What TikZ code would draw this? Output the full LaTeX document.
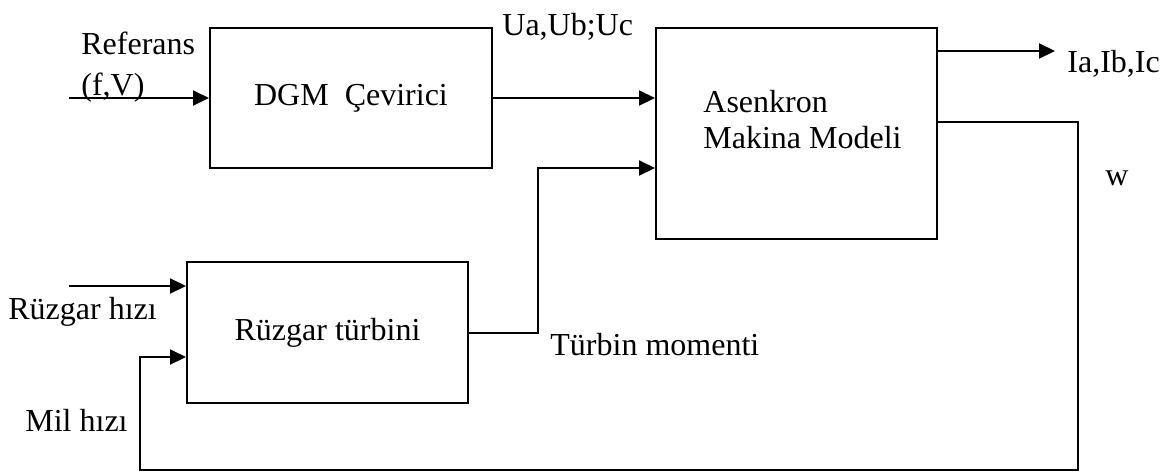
\documentclass[tikz,border=0pt]{standalone}
\usepackage{fontspec}
\setmainfont{Liberation Serif}
\usetikzlibrary{arrows.meta}
\begin{document}
\begin{tikzpicture}[x=0.5pt,y=-0.5pt,
  every node/.style={font=\fontsize{16}{18}\selectfont},
  blk/.style={draw,line width=1pt,inner sep=0pt,align=center},
  lbl/.style={inner sep=0pt,anchor=base west,align=left},
  arr/.style={line width=1pt,-{Triangle[length=8pt,width=7.5pt]}},
  ln/.style={line width=1pt}]
\useasboundingbox (0,0) rectangle (1172,472);
% blocks
\node[blk,minimum width=141pt,minimum height=70pt] (dgm) at (351,98) {DGM\ \ Çevirici};
\node[blk,minimum width=140.5pt,minimum height=105.5pt] (asm) at (796.5,133.5) {};
\node[blk,minimum width=140.5pt,minimum height=70.5pt] (rt) at (327.5,332.5) {Rüzgar türbini};
\node[lbl] (asmtxt) at (703,148) {Asenkron\\Makina Modeli};
% labels
\node[lbl,font=\fontsize{16}{20.5}\selectfont] (ref) at (81,95) {Referans\\(f,V)};
\node[lbl] (uabc) at (502,35) {Ua,Ub;Uc};
\node[lbl] (iabc) at (1067,72) {Ia,Ib,Ic};
\node[lbl] (w) at (1105,185) {w};
\node[lbl] (rh) at (8,319) {Rüzgar hızı};
\node[lbl] (mh) at (25,431) {Mil hızı};
\node[lbl] (tm) at (550,355) {Türbin momenti};
% coordinates
\coordinate (refin) at (69,98);
\coordinate (wsin) at (69,286);
\coordinate (j1) at (538,168);
\coordinate (iaend) at (1055,51);
\coordinate (fb1) at (1078,122);
\coordinate (fb2) at (140,470);
\coordinate (fb3) at (140,357);
% connectors
\draw[arr] (refin) -- (dgm.west |- refin);
\draw[arr] (dgm.east) -- (dgm.east -| asm.west);
\draw[arr] (rt.east) -| (j1) -- (j1 -| asm.west);
\draw[arr] (iaend -| asm.east) -- (iaend);
\draw[arr] (wsin) -- (wsin -| rt.west);
\draw[arr] (fb1 -| asm.east) -- (fb1) |- (fb2) -- (fb3) -- (fb3 -| rt.west);
\end{tikzpicture}
\end{document}
